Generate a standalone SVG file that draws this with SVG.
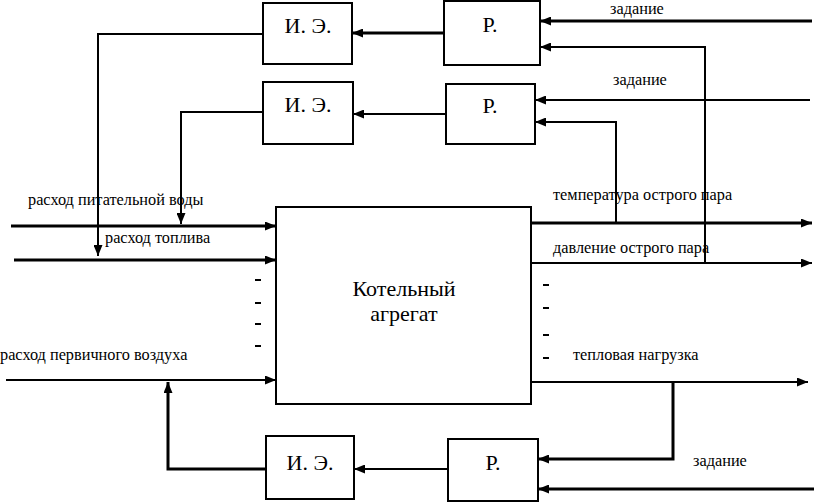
<svg xmlns="http://www.w3.org/2000/svg" width="814" height="502" viewBox="0 0 814 502">
<style>
.box{fill:#fff;stroke:#000;stroke-width:2}
.ln{fill:none;stroke:#000;stroke-width:2}
.tk{fill:none;stroke:#000;stroke-width:3}
.lbl{font-size:16.3px}
.blk{font-size:22px;text-anchor:middle}
.big{font-size:22px;text-anchor:middle}
</style>
<defs>
<marker id="a" markerUnits="userSpaceOnUse" markerWidth="11" markerHeight="9" refX="11" refY="4.5" orient="auto">
<path d="M0,0 L11,4.5 L0,9 z" fill="#000"/>
</marker>
</defs>
<g id="connectors">
<path class="ln" d="M263,34 H98 V256" marker-end="url(#a)"/>
<path class="ln" d="M263,112 H181 V224" marker-end="url(#a)"/>
<path class="tk" d="M444,33 H352" marker-end="url(#a)"/>
<path class="ln" d="M446,114 H353" marker-end="url(#a)"/>
<path class="tk" d="M812,21 H540" marker-end="url(#a)"/>
<path class="ln" d="M705,263 V47 H540" marker-end="url(#a)"/>
<path class="ln" d="M810,100 H535" marker-end="url(#a)"/>
<path class="ln" d="M616,223 V122 H535" marker-end="url(#a)"/>
<path class="tk" d="M11,226 H276" marker-end="url(#a)"/>
<path class="tk" d="M14,260 H276" marker-end="url(#a)"/>
<path class="ln" d="M6,380 H276" marker-end="url(#a)"/>
<path class="tk" d="M531,223 H812" marker-end="url(#a)"/>
<path class="ln" d="M531,263 H812" marker-end="url(#a)"/>
<path class="ln" d="M531,382 H808" marker-end="url(#a)"/>
<path class="tk" d="M673,382 V459 H538" marker-end="url(#a)"/>
<path class="tk" d="M814,489 H538" marker-end="url(#a)"/>
<path class="ln" d="M448,469 H354" marker-end="url(#a)"/>
<path class="tk" d="M266,469 H168 V382" marker-end="url(#a)"/>
<g stroke="#000" stroke-width="2">
<line x1="255" y1="280" x2="261" y2="280"/>
<line x1="255" y1="303" x2="261" y2="303"/>
<line x1="255" y1="324" x2="261" y2="324"/>
<line x1="255" y1="346" x2="261" y2="346"/>
<line x1="543" y1="285" x2="549" y2="285"/>
<line x1="543" y1="308" x2="549" y2="308"/>
<line x1="543" y1="335" x2="549" y2="335"/>
<line x1="543" y1="358" x2="549" y2="358"/>
</g>
</g>
<g font-family="Liberation Serif, Times New Roman, serif" fill="#000">
<g id="ie1"><rect class="box" x="263" y="3" width="89" height="61"/><text class="blk" x="308" y="33">И. Э.</text></g>
<g id="ie2"><rect class="box" x="263" y="82" width="90" height="62"/><text class="blk" x="308" y="112">И. Э.</text></g>
<g id="ie3"><rect class="box" x="266" y="436" width="88" height="63"/><text class="blk" x="310" y="470">И. Э.</text></g>
<g id="r1"><rect class="box" x="444" y="1" width="96" height="64"/><text class="blk" x="490" y="32">Р.</text></g>
<g id="r2"><rect class="box" x="446" y="84" width="89" height="60"/><text class="blk" x="490" y="113">Р.</text></g>
<g id="r3"><rect class="box" x="448" y="439" width="90" height="62"/><text class="blk" x="493" y="470">Р.</text></g>
<g id="boiler"><rect class="box" x="276" y="207" width="255" height="197"/><text class="big" x="404" y="296">Котельный</text><text class="big" x="404" y="321">агрегат</text></g>
<g id="labels">
<text class="lbl" x="28" y="205">расход питательной воды</text>
<text class="lbl" x="105" y="243">расход топлива</text>
<text class="lbl" x="0" y="360">расход первичного воздуха</text>
<text class="lbl" x="553" y="200">температура острого пара</text>
<text class="lbl" x="553" y="253">давление острого пара</text>
<text class="lbl" x="573" y="360">тепловая нагрузка</text>
<text class="lbl" x="610" y="14">задание</text>
<text class="lbl" x="613" y="85">задание</text>
<text class="lbl" x="693" y="466">задание</text>
</g>
</g>
</svg>
